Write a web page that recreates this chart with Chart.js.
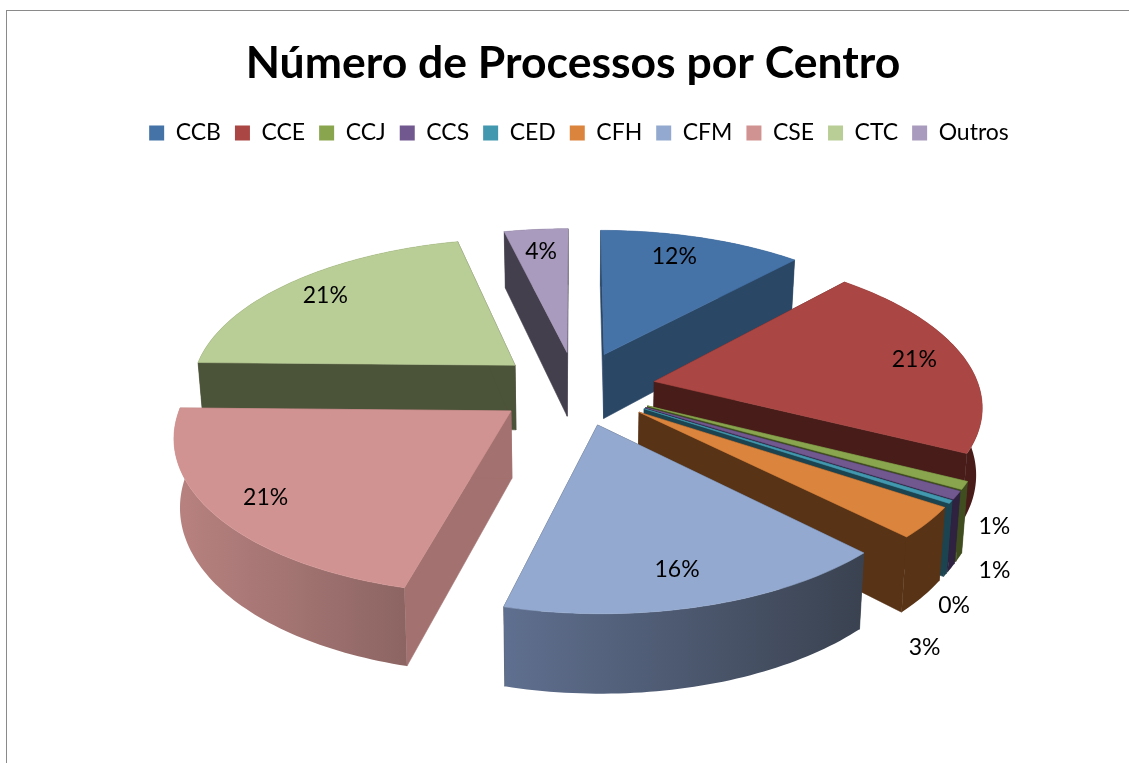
<!DOCTYPE html>
<html><head><meta charset="utf-8">
<script src="https://cdn.jsdelivr.net/npm/chart.js@4"></script>
<style>
html,body{margin:0;padding:0;background:#fff;overflow:hidden;width:1129px;height:763px}
#frame{position:absolute;left:6px;top:10px;width:1135px;height:760px;border-top:1.5px solid #8a8a8a;border-left:1.5px solid #8a8a8a;background:#fff}
canvas{display:block}
</style></head><body>
<div id="frame"><canvas id="c" width="1132" height="753"></canvas></div>
<script>
const titleText = 'Número de Processos por Centro';
const categories = ['CCB','CCE','CCJ','CCS','CED','CFH','CFM','CSE','CTC','Outros'];
const values = [11.8, 20.7, 0.8, 0.8, 0.3, 3.2, 16.4, 21.3, 21, 3.7];
const topColors = ['#4572A7','#AA4643','#89A54E','#71588F','#4198AF','#DB843D','#93A9CF','#D19392','#B9CD96','#A99BBD'];
const rimLeft  = ['#2A4766','#481C19','#3F4D1F','#2E2240','#1C4450','#583315','#5F6F8F','#B88280','#4B5339','#443F4D'];
const rimRight = ['#2A4766','#481C19','#3F4D1F','#2E2240','#1C4450','#583315','#3A4250','#8C6563','#4B5339','#443F4D'];
const cutColors= ['#2A4766','#481C19','#3F4D1F','#2E2240','#1C4450','#583315','#3A4250','#A3716F','#4B5339','#443F4D'];
const labelShiftDeg = [-2.85,-0.25,8.6,14.2,21.2,21.7,0.9,-0.2,-0.5,-0.1];
const labelRadius = [0.817,0.847,1.163,1.277,1.317,1.41,0.825,0.849,0.838,0.81];

// view of the pie's plane
const view = {cx:569, cy:377, r:325, labelR:323, squash:0.463, persp:2300, depth:66, bottomPinch:0.985, explode:80};
const project = (u,v,h) => {
  const w = 1/(1 - v/view.persp);
  return [view.cx + u*w*(h ? view.bottomPinch : 1), view.cy + view.squash*v*w + h*w];
};
const fillPoly = (ctx, pts, fill) => {
  ctx.beginPath();
  pts.forEach((p,i)=> i ? ctx.lineTo(p[0],p[1]) : ctx.moveTo(p[0],p[1]));
  ctx.closePath();
  ctx.fillStyle = fill; ctx.fill();
  ctx.lineWidth = 0.6; ctx.strokeStyle = typeof fill === 'string' ? fill : 'rgba(0,0,0,0)'; ctx.stroke();
};
const pie3d = {
  id:'pie3d',
  afterLayout(chart){ chart.legend.left += 12; },
  beforeDatasetsDraw(chart){
    const ctx = chart.ctx, meta = chart.getDatasetMeta(0);
    const slices = meta.data.map((arc,i)=>{
      const mid = (arc.startAngle+arc.endAngle)/2;
      return {i, a0:arc.startAngle, a1:arc.endAngle, mid,
              ou:Math.cos(mid)*view.explode, ov:Math.sin(mid)*view.explode};
    }).sort((a,b)=>a.ov-b.ov);
    ctx.save();
    slices.forEach(s=>{
      const n = Math.max(4, Math.ceil((s.a1-s.a0)/0.02));
      const outer = [];
      for(let k=0;k<=n;k++){
        const a = s.a0+(s.a1-s.a0)*k/n;
        outer.push([s.ou+Math.cos(a)*view.r, s.ov+Math.sin(a)*view.r]);
      }
      const apex = [s.ou,s.ov];
      const P = (q,h)=>project(q[0],q[1],h);
      const first = outer[0], last = outer[n];
      fillPoly(ctx,[P(apex,0),P(first,0),P(first,view.depth),P(apex,view.depth)],cutColors[s.i]);
      fillPoly(ctx,[P(apex,0),P(last,0),P(last,view.depth),P(apex,view.depth)],cutColors[s.i]);
      const rim = outer.map(q=>P(q,0)).concat(outer.slice().reverse().map(q=>P(q,view.depth)));
      const xs = rim.map(p=>p[0]);
      const g = ctx.createLinearGradient(Math.min(...xs),0,Math.max(...xs),0);
      g.addColorStop(0,rimLeft[s.i]); g.addColorStop(1,rimRight[s.i]);
      fillPoly(ctx,rim,g);
      fillPoly(ctx,[P(apex,0)].concat(outer.map(q=>P(q,0))),topColors[s.i]);
    });
    ctx.fillStyle='#000'; ctx.font='23px Lato'; ctx.textAlign='center'; ctx.textBaseline='middle';
    slices.forEach(s=>{
      const a = s.mid + labelShiftDeg[s.i]*Math.PI/180;
      const rr = labelRadius[s.i]*view.labelR;
      const p = project(s.ou+Math.cos(a)*rr, s.ov+Math.sin(a)*rr, 0);
      ctx.fillText(Math.round(values[s.i])+'%', p[0], p[1]);
    });
    ctx.restore();
    return false;
  }
};
new Chart(document.getElementById('c'),{
  type:'pie',
  plugins:[pie3d],
  data:{labels:categories,datasets:[{data:values,backgroundColor:topColors,borderWidth:0}]},
  options:{
    responsive:false,animation:false,
    layout:{padding:{top:26}},
    plugins:{
      tooltip:{enabled:false},
      title:{display:true,text:titleText,color:'#000',font:{family:'Lato',size:44.5,weight:'bold'},padding:{top:0,bottom:17}},
      legend:{position:'top',labels:{color:'#000',font:{family:'Lato',size:23},boxWidth:15,boxHeight:15,padding:14}}
    }
  }
});
</script>
</body></html>
